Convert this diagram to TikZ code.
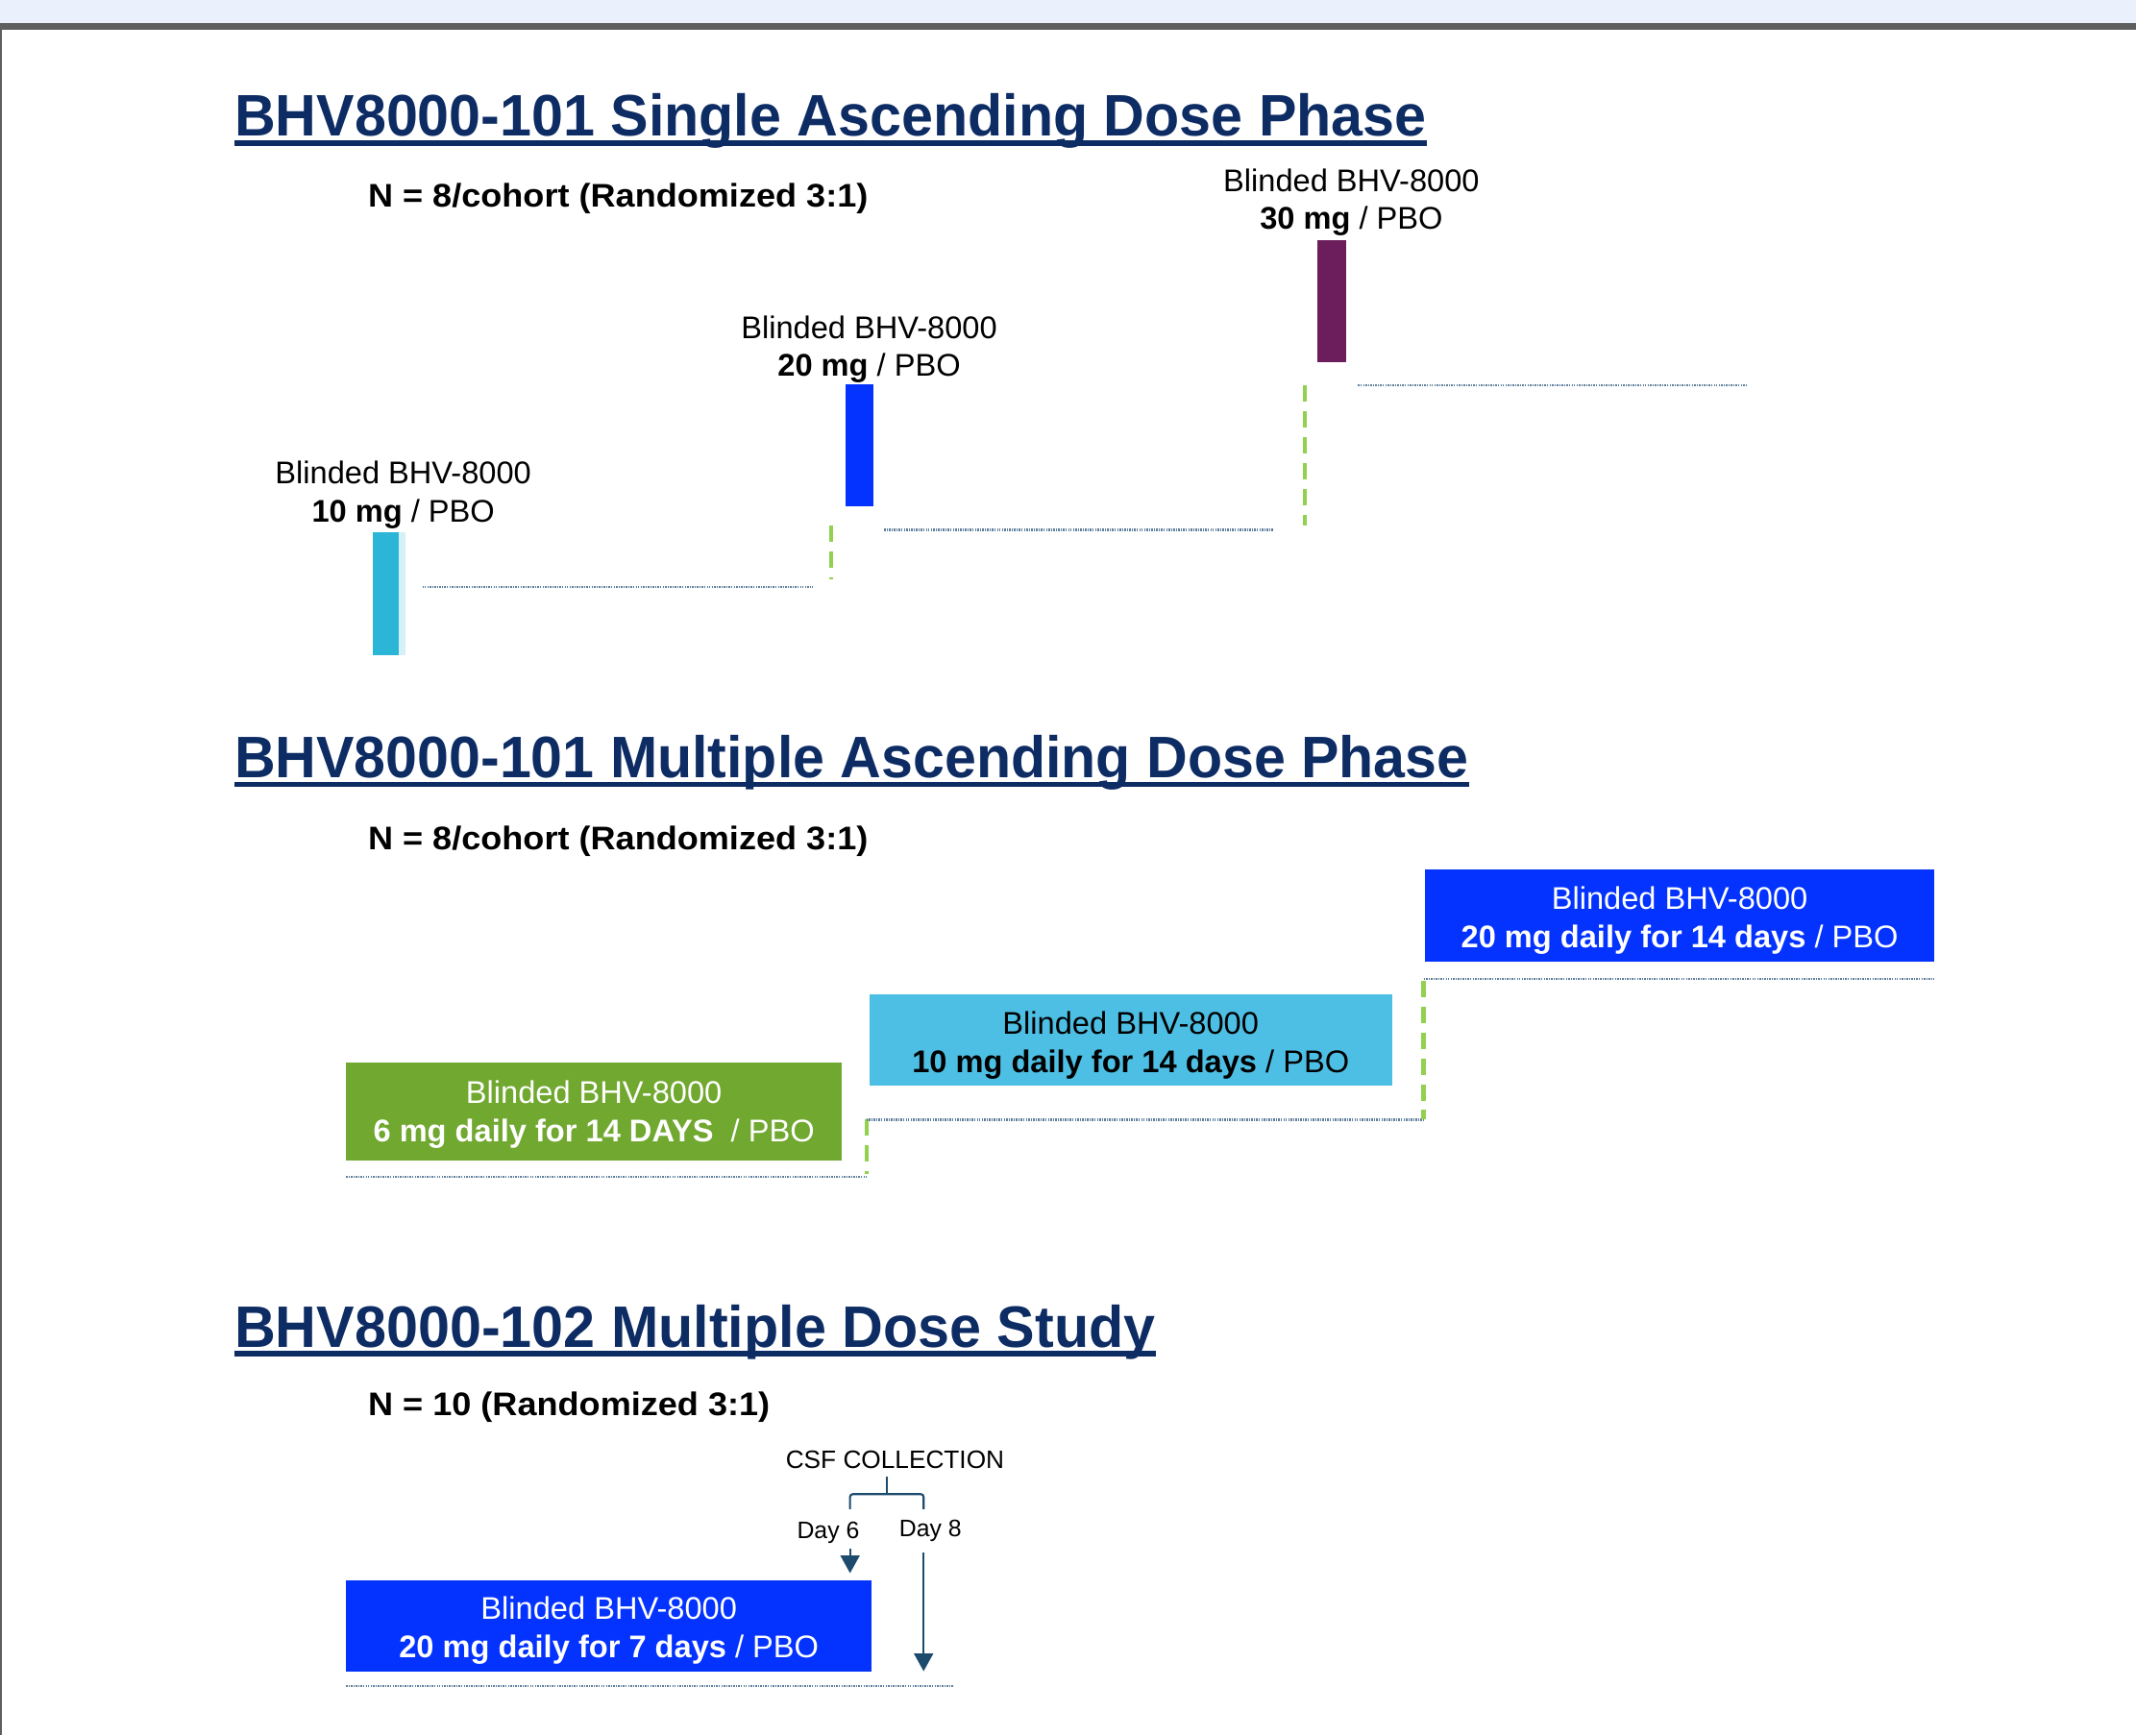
\documentclass[tikz,border=0pt]{standalone}
\usepackage{fontspec}
\setmainfont{Liberation Sans}
\usetikzlibrary{arrows.meta}
\definecolor{navy}{HTML}{0E2C64}
\definecolor{bandblue}{HTML}{EAF1FD}
\definecolor{bandgray}{HTML}{5E5E5E}
\definecolor{barpurple}{HTML}{6C1D5B}
\definecolor{barblue}{HTML}{0433FF}
\definecolor{barcyan}{HTML}{2BB5D6}
\definecolor{cyanshadow}{HTML}{D6F0F7}
\definecolor{boxgreen}{HTML}{71A830}
\definecolor{boxcyan}{HTML}{4EBFE4}
\definecolor{dashgreen}{HTML}{92D050}
\definecolor{dotline}{HTML}{5F7F9C}
\definecolor{csfblue}{HTML}{1D4B6E}
\newcommand\fitw[2]{\resizebox{#1}{\height}{#2}}
\tikzset{
  ttl/.style={anchor=base west, inner sep=0pt, text=navy, font=\fontsize{43}{50}\selectfont\bfseries},
  uline/.style={navy, line width=4pt},
  ntext/.style={anchor=base west, inner sep=0pt, font=\fontsize{24}{28}\selectfont\bfseries},
  lbl/.style={align=center, inner sep=0pt, font=\fontsize{23}{28}\selectfont},
  boxshape/.style={inner sep=0pt},
  boxt/.style={align=center, inner sep=0pt, font=\fontsize{23}{28}\selectfont},
  dotl/.style={dotline, line width=1.6pt, dash pattern=on 1pt off 0.8pt},
  dashg/.style={dashgreen, line width=3pt, dash pattern=on 12pt off 7pt},
  csfarrow/.style={csfblue, line width=1.5pt, -{Triangle[length=13pt,width=14pt]}},
}
\begin{document}
\begin{tikzpicture}[x=1pt,y=-1pt]
\useasboundingbox (0,0) rectangle (1568,1274);
\fill[bandblue] (0,0) rectangle (1568,17);
\fill[bandgray] (0,17) rectangle (1568,22);
\draw[bandgray, line width=1.2pt] (0.6,22) -- (0.6,1274);

% ===== Section 1 =====
\node[ttl] (t1) at (172,100) {\fitw{875pt}{BHV8000-101 Single Ascending Dose Phase}};
\draw[uline] ([yshift=-5pt]t1.base west) -- ([yshift=-5pt]t1.base east);
\node[ntext] (n1) at (270,152) {\fitw{367pt}{N = 8/cohort (Randomized 3:1)}};

% 10 mg
\node[lbl] (l10) at (296,363.5) {Blinded BHV-8000\\\textbf{10 mg} / PBO};
\fill[cyanshadow] (293,391) rectangle (298,481);
\node[fill=barcyan, minimum width=19pt, minimum height=90pt, inner sep=0pt] (b10) at (283.5,436) {};
\coordinate (d10a) at (310,431);
\coordinate (d10b) at (597,431);
\draw[dotl] (d10a) -- (d10b);

% 20 mg
\node[lbl] (l20) at (638,256.5) {Blinded BHV-8000\\\textbf{20 mg} / PBO};
\node[fill=barblue, minimum width=20pt, minimum height=90pt, inner sep=0pt] (b20) at (631,327) {};
\coordinate (g20a) at (610,386);
\coordinate (g20b) at (610,425);
\draw[dashg] (g20a) -- (g20b);
\coordinate (d20a) at (649,389);
\coordinate (d20b) at (935,389);
\draw[dotl] (d20a) -- (d20b);

% 30 mg
\node[lbl] (l30) at (992,148.5) {Blinded BHV-8000\\\textbf{30 mg} / PBO};
\node[fill=barpurple, minimum width=21pt, minimum height=90pt, inner sep=0pt] (b30) at (977.5,221) {};
\coordinate (g30a) at (958,283);
\coordinate (g30b) at (958,386);
\draw[dashg] (g30a) -- (g30b);
\coordinate (d30a) at (997,283);
\coordinate (d30b) at (1283,283);
\draw[dotl] (d30a) -- (d30b);

% ===== Section 2 =====
\node[ttl] (t2) at (172,571) {\fitw{906pt}{BHV8000-101 Multiple Ascending Dose Phase}};
\draw[uline] ([yshift=-5pt]t2.base west) -- ([yshift=-5pt]t2.base east);
\node[ntext] (n2) at (270,624) {\fitw{367pt}{N = 8/cohort (Randomized 3:1)}};

\node[fill=boxgreen, boxshape, minimum width=364pt, minimum height=72pt] (m6) at (436,816) {};
\node[boxt, text=white] (m6t) at ([yshift=-2.5pt]m6.center)
  {Blinded BHV-8000\\\textbf{6 mg daily for 14 DAYS}~~/ PBO};
\coordinate (dm6a) at (254,864);
\coordinate (dm6b) at (636,864);
\draw[dotl] (dm6a) -- (dm6b);
\coordinate (gm6a) at (636,822);
\coordinate (gm6b) at (636,862);
\draw[dashg] (gm6a) -- (gm6b);

\node[fill=boxcyan, boxshape, minimum width=384pt, minimum height=67pt] (m10) at (830,763.5) {};
\node[boxt, text=black] (m10t) at ([yshift=-4pt]m10.center)
  {Blinded BHV-8000\\\textbf{10 mg daily for 14 days} / PBO};
\coordinate (dm10a) at (636,822);
\coordinate (dm10b) at (1045,822);
\draw[dotl] (dm10a) -- (dm10b);
\coordinate (gm10a) at (1045,720);
\coordinate (gm10b) at (1045,822);
\draw[dashg] (gm10a) -- (gm10b);

\node[fill=barblue, boxshape, minimum width=374pt, minimum height=68pt] (m20) at (1233,672) {};
\node[boxt, text=white] (m20t) at ([yshift=-4pt]m20.center)
  {Blinded BHV-8000\\\textbf{20 mg daily for 14 days} / PBO};
\coordinate (dm20a) at (1045,719);
\coordinate (dm20b) at (1420,719);
\draw[dotl] (dm20a) -- (dm20b);

% ===== Section 3 =====
\node[ttl] (t3) at (172,989) {\fitw{676pt}{BHV8000-102 Multiple Dose Study}};
\draw[uline] ([yshift=-5pt]t3.base west) -- ([yshift=-5pt]t3.base east);
\node[ntext] (n3) at (270,1039) {\fitw{295pt}{N = 10 (Randomized 3:1)}};

\node[inner sep=0pt, font=\fontsize{18.5}{22}\selectfont] (csf) at (657,1072) {CSF COLLECTION};
\coordinate (br0) at (651,1084);
\coordinate (br1) at (651,1097);
\coordinate (brl) at (624,1108);
\coordinate (brr) at (678,1108);
\draw[csfblue, line width=1.5pt] (br0) -- (br1);
\draw[csfblue, line width=1.5pt, rounded corners=2pt] (brl) |- (br1) -| (brr);

\node[inner sep=0pt, font=\fontsize{17.5}{21}\selectfont] (d6) at (608,1125) {Day 6};
\node[inner sep=0pt, font=\fontsize{17.5}{21}\selectfont] (d8) at (683,1124) {Day 8};
\coordinate (a6s) at (624,1137);
\coordinate (a6e) at (624,1155);
\draw[csfarrow] (a6s) -- (a6e);
\coordinate (a8s) at (678,1140);
\coordinate (a8e) at (678,1227);
\draw[csfarrow] (a8s) -- (a8e);

\node[fill=barblue, boxshape, minimum width=386pt, minimum height=67pt] (s20) at (447,1193.5) {};
\node[boxt, text=white] (s20t) at ([yshift=-3.5pt]s20.center)
  {Blinded BHV-8000\\\textbf{20 mg daily for 7 days} / PBO};
\coordinate (ds20a) at (254,1238);
\coordinate (ds20b) at (700,1238);
\draw[dotl] (ds20a) -- (ds20b);
\end{tikzpicture}
\end{document}
